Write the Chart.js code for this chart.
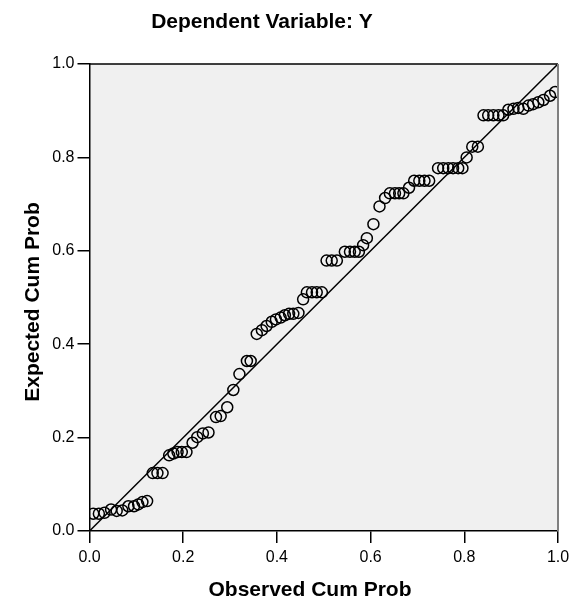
<!DOCTYPE html>
<html>
<head>
<meta charset="utf-8">
<script src="https://cdn.jsdelivr.net/npm/chart.js@4"></script>
<style>
  body { margin: 0; background: #fff; }
</style>
</head>
<body>
<canvas id="myChart" width="571" height="603"></canvas>
<script>
// P-P plot values
const observedCumProb = [
  0.008, 0.020, 0.032, 0.046, 0.058, 0.070, 0.083, 0.095, 0.104, 0.113,
  0.123, 0.135, 0.145, 0.156, 0.170, 0.179, 0.188, 0.197, 0.207, 0.220,
  0.230, 0.242, 0.254, 0.270, 0.280, 0.294, 0.307, 0.320, 0.336, 0.344,
  0.357, 0.368, 0.378, 0.389, 0.398, 0.408, 0.417, 0.426, 0.435, 0.446,
  0.456, 0.464, 0.475, 0.485, 0.496, 0.506, 0.517, 0.528, 0.545, 0.556,
  0.566, 0.575, 0.584, 0.592, 0.606, 0.619, 0.631, 0.641, 0.652, 0.661,
  0.670, 0.682, 0.693, 0.704, 0.715, 0.725, 0.744, 0.755, 0.766, 0.776,
  0.787, 0.796, 0.805, 0.817, 0.829, 0.841, 0.851, 0.862, 0.873, 0.883,
  0.894, 0.905, 0.915, 0.926, 0.937, 0.947, 0.958, 0.969, 0.983, 0.994
];
const expectedCumProb = [
  0.037, 0.037, 0.039, 0.046, 0.043, 0.044, 0.053, 0.053, 0.057, 0.062,
  0.064, 0.124, 0.124, 0.124, 0.162, 0.166, 0.169, 0.169, 0.169, 0.189,
  0.201, 0.209, 0.211, 0.244, 0.246, 0.265, 0.302, 0.336, 0.364, 0.364,
  0.422, 0.430, 0.439, 0.448, 0.453, 0.457, 0.462, 0.465, 0.465, 0.467,
  0.496, 0.511, 0.511, 0.511, 0.511, 0.579, 0.579, 0.579, 0.598, 0.598,
  0.598, 0.598, 0.612, 0.627, 0.657, 0.695, 0.713, 0.723, 0.723, 0.723,
  0.723, 0.735, 0.750, 0.750, 0.750, 0.750, 0.777, 0.777, 0.777, 0.777,
  0.777, 0.777, 0.800, 0.823, 0.823, 0.890, 0.890, 0.890, 0.890, 0.890,
  0.902, 0.904, 0.906, 0.904, 0.911, 0.914, 0.918, 0.923, 0.932, 0.940
];
const refLine = [0, 1];
const tickValues = [0, 0.2, 0.4, 0.6, 0.8, 1.0];

const titulo = "Dependent Variable: Y";
const tituloX = "Observed Cum Prob";
const tituloY = "Expected Cum Prob";

const puntos = observedCumProb.map((v, i) => ({ x: v, y: expectedCumProb[i] }));
const linea = refLine.map(v => ({ x: v, y: v }));

const fuente = '"Liberation Sans", Arial, sans-serif';

const fondoPlot = {
  id: 'fondoPlot',
  beforeDraw(chart) {
    const { ctx, chartArea: a } = chart;
    ctx.save();
    ctx.fillStyle = '#f0f0f0';
    ctx.fillRect(a.left, a.top, a.right - a.left, a.bottom - a.top);
    ctx.restore();
  },
  afterDraw(chart) {
    const { ctx, chartArea: a } = chart;
    ctx.save();
    // marco superior y derecho
    ctx.strokeStyle = '#000';
    ctx.lineWidth = 1.5;
    ctx.beginPath();
    ctx.moveTo(a.left, a.top);
    ctx.lineTo(a.right, a.top);
    ctx.stroke();
    ctx.strokeStyle = '#808080';
    ctx.lineWidth = 2;
    ctx.beginPath();
    ctx.moveTo(a.right, a.top);
    ctx.lineTo(a.right, a.bottom);
    ctx.stroke();

    // textos
    ctx.fillStyle = '#000';
    ctx.font = 'bold 21px ' + fuente;
    ctx.textAlign = 'center';
    ctx.textBaseline = 'middle';
    ctx.fillText(titulo, 262, 22);
    ctx.fillText(tituloX, 310, 590);
    ctx.translate(33, 302);
    ctx.rotate(-Math.PI / 2);
    ctx.fillText(tituloY, 0, 0);
    ctx.restore();
  }
};

const ctx = document.getElementById('myChart').getContext('2d');
const myChart = new Chart(ctx, {
  type: 'scatter',
  data: {
    datasets: [
      {
        type: 'line',
        label: 'ref',
        data: linea,
        borderColor: '#000',
        borderWidth: 1.5,
        pointRadius: 0,
        fill: false
      },
      {
        label: 'Y',
        data: puntos,
        pointStyle: 'circle',
        pointRadius: 5.5,
        pointBorderWidth: 1.5,
        pointBorderColor: '#000',
        pointBackgroundColor: 'rgba(0,0,0,0)',
        pointHoverRadius: 5.5
      }
    ]
  },
  options: {
    responsive: false,
    animation: false,
    layout: { padding: { top: 64, right: 13, left: 0, bottom: 0 } },
    plugins: {
      legend: { display: false },
      tooltip: { enabled: false }
    },
    scales: {
      x: {
        type: 'linear',
        min: 0,
        max: 1,
        afterBuildTicks: scale => { scale.ticks = tickValues.map(v => ({ value: v })); },
        afterFit: scale => { scale.height = 72; scale.paddingLeft = 0; scale.paddingRight = 0; },
        border: { display: true, color: '#000', width: 1.5 },
        grid: { drawOnChartArea: false, drawTicks: true, tickLength: 12, color: '#000', lineWidth: 1.5 },
        ticks: {
          color: '#000',
          padding: 5,
          maxRotation: 0,
          font: { family: fuente, size: 16 },
          callback: v => Number(v).toFixed(1)
        }
      },
      y: {
        type: 'linear',
        min: 0,
        max: 1,
        afterBuildTicks: scale => { scale.ticks = tickValues.map(v => ({ value: v })); },
        afterFit: scale => { scale.width = 89.5; scale.paddingTop = 0; scale.paddingBottom = 0; },
        border: { display: true, color: '#000', width: 1.5 },
        grid: { drawOnChartArea: false, drawTicks: true, tickLength: 12, color: '#000', lineWidth: 1.5 },
        ticks: {
          color: '#000',
          padding: 3,
          font: { family: fuente, size: 16 },
          callback: v => Number(v).toFixed(1)
        }
      }
    }
  },
  plugins: [fondoPlot]
});
</script>
</body>
</html>
